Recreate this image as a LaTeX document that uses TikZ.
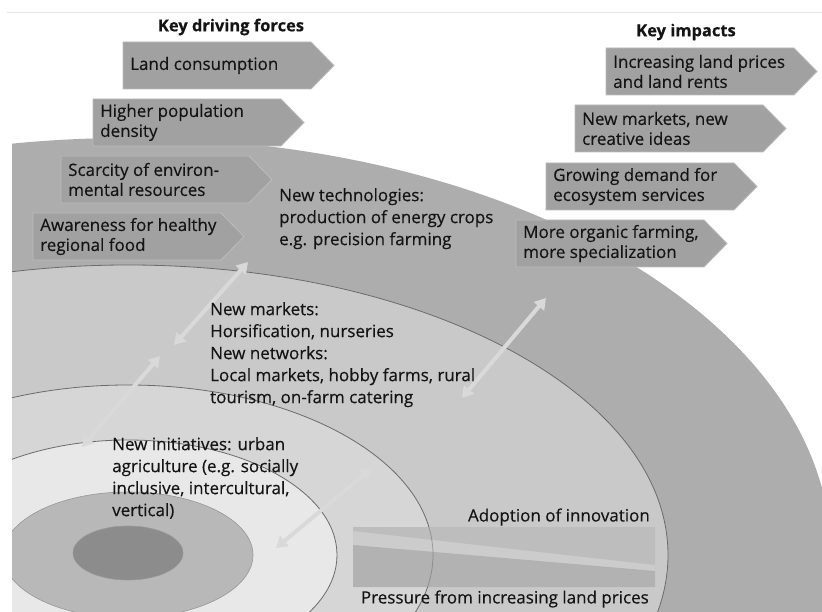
\documentclass[tikz,border=0pt]{standalone}
\usepackage{fontspec}
\setmainfont{Open Sans}[FakeBold=0.35]
\newfontfamily\plainfont{Open Sans}[FakeBold=0.35]
\usetikzlibrary{arrows.meta}
\definecolor{txt}{gray}{0.08}
\definecolor{boxg}{gray}{0.63}
\definecolor{boxedge}{gray}{0.74}
\definecolor{band1}{gray}{0.68}
\definecolor{band2}{gray}{0.79}
\definecolor{band3}{gray}{0.84}
\definecolor{band4}{gray}{0.91}
\definecolor{band5}{gray}{0.72}
\definecolor{band6}{gray}{0.55}
\definecolor{ringln}{gray}{0.42}
\definecolor{arr}{gray}{0.85}
\definecolor{wedgeA}{gray}{0.74}
\definecolor{wedgeB}{gray}{0.70}
\definecolor{wedgegap}{gray}{0.80}
\definecolor{topline}{gray}{0.9}
\tikzset{
  boxshape/.style={fill=boxg, draw=boxedge, line width=0.8pt},
  boxtext/.style={text=txt, font=\plainfont\fontsize{17}{20}\selectfont, align=left, inner sep=0pt, anchor=west},
  heading/.style={text=txt, font=\fontsize{16.5}{20}\selectfont\bfseries, inner sep=0pt},
  bodytext/.style={text=txt, font=\plainfont\fontsize{17}{22}\selectfont, align=left, inner sep=0pt, anchor=north west},
  ringline/.style={draw=ringln, line width=0.8pt},
  linkarrow/.style={draw=arr, line width=4pt, {Triangle[width=13pt,length=11pt]}-{Triangle[width=13pt,length=11pt]}},
}
\newcommand\arrowbox[4]{%
  \path[boxshape] (#2,#3) -- ++(188,0) -- ++(23,23.5) -- ++(-23,23.5) -- ++(-188,0) -- cycle;
  \node[boxtext] (#1) at (#2+7,#3+23.5) {#4};
}
\begin{document}
\begin{tikzpicture}[x=1pt,y=-1pt]
\useasboundingbox (0,0) rectangle (822,612);
\fill[white] (0,0) rectangle (822,612);
\draw[topline, line width=0.6pt] (7,12) -- (822,12);
\coordinate (ctr) at (128,555);
\begin{scope}
  \clip (12,0) rectangle (822,612);
  \path[fill=band1] (ctr) ellipse [x radius=703pt, y radius=417pt];
  \path[fill=band2, ringline] (ctr) ellipse [x radius=540pt, y radius=290pt];
  \path[fill=band3, ringline] (ctr) ellipse [x radius=305pt, y radius=170pt];
  \path[fill=band4, ringline] (ctr) ellipse [x radius=209pt, y radius=115pt];
  \path[fill=band5, draw=ringln!70, line width=0.6pt] (ctr) ellipse [x radius=125pt, y radius=63pt];
  \path[fill=band6, draw=ringln!70, line width=0.6pt] (128,553) ellipse [x radius=55pt, y radius=27pt];
\end{scope}
% wedge bar
\path[fill=wedgegap] (353,527) rectangle (655,587);
\path[fill=wedgeA] (353,527) -- (655,527) -- (655,565) -- (353,531) -- cycle;
\path[fill=wedgeB] (353,545) -- (655,571) -- (655,587) -- (353,587) -- cycle;
\begin{scope}
  \clip (353,527) rectangle (655,587);
  \path[ringline, opacity=0.5] (ctr) ellipse [x radius=305pt, y radius=170pt];
\end{scope}
% link arrows
\coordinate (a1s) at (248,262); \coordinate (a1e) at (174,345);
\coordinate (a2s) at (160,356); \coordinate (a2e) at (82,447);
\coordinate (a3s) at (372,468); \coordinate (a3e) at (276,548);
\coordinate (a4s) at (546,298); \coordinate (a4e) at (462,398);
\draw[linkarrow] (a1s) -- (a1e);
\draw[linkarrow] (a2s) -- (a2e);
\draw[linkarrow] (a3s) -- (a3e);
\draw[linkarrow] (a4s) -- (a4e);
% headings
\node[heading] (hdf) at (231,27) {Key driving forces};
\node[heading] (hki) at (686,32) {Key impacts};
% driving forces
\arrowbox{df1}{123}{42}{Land consumption}
\arrowbox{df2}{93}{99}{Higher population\\density}
\arrowbox{df3}{61}{156}{Scarcity of environ-\\mental resources}
\arrowbox{df4}{33}{213}{Awareness for healthy\\regional food}
% impacts
\arrowbox{ki1}{606}{48}{Increasing land prices\\and land rents}
\arrowbox{ki2}{575}{105}{New markets, new\\creative ideas}
\arrowbox{ki3}{546}{163}{Growing demand for\\ecosystem services}
\arrowbox{ki4}{516}{220}{More organic farming,\\more specialization}
% body texts
\node[bodytext] (tech) at (279,188) {New technologies:\\production of energy crops\\e.g. precision farming};
\node[bodytext] (mkts) at (210,302) {New markets:\\Horsification, nurseries\\New networks:\\Local markets, hobby farms, rural\\tourism, on-farm catering};
\node[bodytext] (init) at (112,437) {New initiatives: urban\\agriculture (e.g. socially\\inclusive, intercultural,\\vertical)};
\node[bodytext, anchor=east] (adopt) at (650,517) {Adoption of innovation};
\node[bodytext, anchor=east] (press) at (649,599) {Pressure from increasing land prices};
\end{tikzpicture}
\end{document}
